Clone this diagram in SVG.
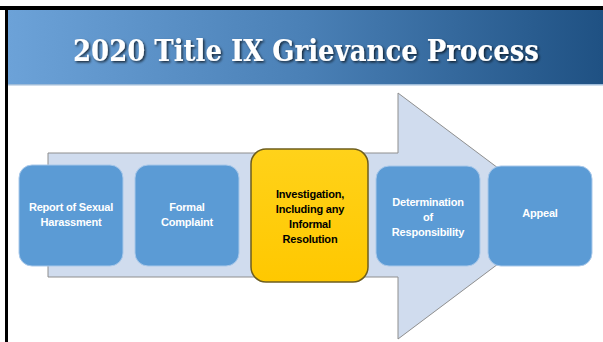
<svg xmlns="http://www.w3.org/2000/svg" width="603" height="342" viewBox="0 0 603 342">
  <defs>
    <linearGradient id="hdr" x1="0" y1="0" x2="1" y2="0">
      <stop offset="0" stop-color="#6CA2D8"/>
      <stop offset="0.5" stop-color="#4A80B6"/>
      <stop offset="1" stop-color="#1F5183"/>
    </linearGradient>
    <linearGradient id="yel" x1="0" y1="0" x2="0" y2="1">
      <stop offset="0" stop-color="#FFD21A"/>
      <stop offset="1" stop-color="#FFC800"/>
    </linearGradient>
    <filter id="sh" filterUnits="userSpaceOnUse" x="60" y="20" width="490" height="60">
      <feDropShadow dx="1.5" dy="1.5" stdDeviation="0.8" flood-color="#000" flood-opacity="0.7"/>
    </filter>
    <style>
      .blue { fill: #5B9BD5; stroke: #A8C8EA; stroke-width: 1; }
      .lbl { font-family: "Liberation Sans", Arial, sans-serif; font-weight: bold; font-size: 11px; fill: #fff; text-anchor: middle; letter-spacing: -0.2px; }
      .dark { fill: #000; }
    </style>
  </defs>
  <rect x="0" y="0" width="603" height="342" fill="#fff"/>
  <rect x="0" y="6" width="603" height="4" fill="#000"/>
  <rect x="5" y="6" width="3" height="336" fill="#000"/>
  <rect x="8" y="10" width="595" height="75" fill="url(#hdr)"/>
  <rect x="8" y="84" width="595" height="1.5" fill="#9FBCD9"/>
  <text x="306" y="61" font-family="'DejaVu Serif', 'Liberation Serif', serif" font-weight="bold" font-size="29" fill="#fff" text-anchor="middle" textLength="466" lengthAdjust="spacingAndGlyphs" filter="url(#sh)">2020 Title IX Grievance Process</text>

  <g id="connectors">
    <path d="M48,153 H398 V93 L562,216 L398,339 V277 H48 Z" fill="#D0DCEE" stroke="#8E8E8E" stroke-width="1"/>
  </g>

  <g id="node-report">
    <rect class="blue" x="19" y="165" width="104" height="101" rx="13"/>
    <text class="lbl" x="71" y="211">Report of Sexual</text>
    <text class="lbl" x="71" y="226">Harassment</text>
  </g>
  <g id="node-formal">
    <rect class="blue" x="135" y="165" width="104" height="101" rx="13"/>
    <text class="lbl" x="187" y="211">Formal</text>
    <text class="lbl" x="187" y="226">Complaint</text>
  </g>
  <g id="node-investigation">
    <rect x="251" y="149" width="117" height="133" rx="15" fill="url(#yel)" stroke="#6E5E1E" stroke-width="1.5"/>
    <text class="lbl dark" x="310" y="198">Investigation,</text>
    <text class="lbl dark" x="310" y="213">Including any</text>
    <text class="lbl dark" x="310" y="228">Informal</text>
    <text class="lbl dark" x="310" y="243">Resolution</text>
  </g>
  <g id="node-determination">
    <rect class="blue" x="376" y="166" width="104" height="100" rx="13"/>
    <text class="lbl" x="428" y="206">Determination</text>
    <text class="lbl" x="428" y="221">of</text>
    <text class="lbl" x="428" y="236">Responsibility</text>
  </g>
  <g id="node-appeal">
    <rect class="blue" x="488" y="166" width="104" height="100" rx="13"/>
    <text class="lbl" x="540" y="217">Appeal</text>
  </g>
</svg>
